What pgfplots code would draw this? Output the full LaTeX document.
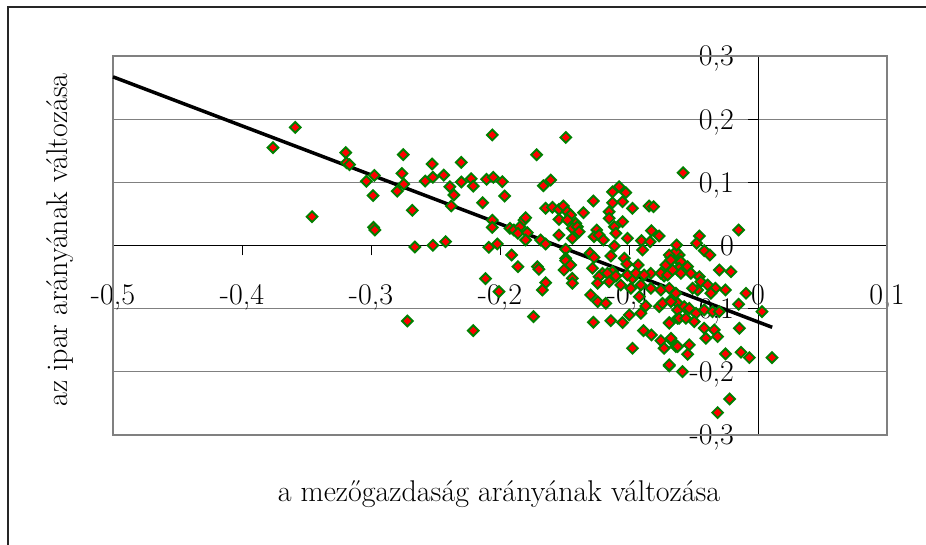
\documentclass[border=0pt]{standalone}
\usepackage{fontspec}
\usepackage{pgfplots}
\pgfplotsset{compat=1.18}
\definecolor{exgreen}{RGB}{0,128,0}
\definecolor{exred}{RGB}{255,0,0}
\definecolor{exgray}{RGB}{128,128,128}
\newcommand{\bigf}{\fontsize{30}{36}\selectfont}
\newcommand{\tickf}{\fontsize{30}{36}\selectfont}
\begin{document}
\begin{tikzpicture}[x=1pt,y=1pt,font=\bigf]
\useasboundingbox (0,0) rectangle (926,545);
\fill[white] (0,0) rectangle (926,545);
\draw[line width=1.3pt,black!85] (8,0) -- (8,538) -- (926,538);
\begin{axis}[
  at={(113pt,110pt)}, anchor=south west,
  scale only axis, width=774pt, height=379pt,
  xmin=-0.5, xmax=0.1, ymin=-0.3, ymax=0.3,
  axis lines=middle,
  axis line style={-, black, line width=1pt},
  xtick={-0.5,-0.4,-0.3,-0.2,-0.1,0,0.1},
  ytick={-0.3,-0.2,-0.1,0,0.1,0.2,0.3},
  hide obscured x ticks=false, hide obscured y ticks=false,
  tick align=outside,
  major tick length=10pt,
  tick style={black, line width=1pt},
  ymajorgrids, grid style={exgray, line width=1pt},
  /pgf/number format/.cd, use comma, fixed, precision=1, assume math mode=true,
  /pgfplots/.cd,
  tick label style={font=\tickf, inner sep=0pt},
  xticklabel style={anchor=base, yshift=-49pt},
  yticklabel style={anchor=base east, xshift=-14pt, yshift=-10pt},
  clip=false,
]
\draw[exgray, line width=2pt] (rel axis cs:0,0) rectangle (rel axis cs:1,1);
\addplot[only marks, mark=square*, mark size=3.8pt,
  mark options={fill=exred, draw=exgreen, line width=1.9pt, rotate=45}]
coordinates {
(-0.3587,0.187) (-0.376,0.155) (-0.3196,0.147) (-0.319,0.131) (-0.3166,0.128)
(-0.275,0.144) (-0.2526,0.129) (-0.2974,0.111) (-0.3036,0.1016) (-0.276,0.114)
(-0.2746,0.097) (-0.2797,0.086) (-0.258,0.102) (-0.252,0.108) (-0.2984,0.079)
(-0.268,0.0557) (-0.3457,0.0456) (-0.298,0.0288) (-0.297,0.0245) (-0.266,-0.0024)
(-0.252,0.0003) (-0.2718,-0.1195)
(-0.206,0.175) (-0.149,0.171) (-0.1716,0.1437) (-0.230,0.1316) (-0.2436,0.1115)
(-0.23,0.1005) (-0.2223,0.1057) (-0.2207,0.094) (-0.2104,0.1047) (-0.2052,0.108)
(-0.1982,0.101) (-0.1964,0.0783) (-0.2389,0.093) (-0.2358,0.0799) (-0.2378,0.0625)
(-0.2135,0.0677) (-0.1664,0.0946) (-0.1607,0.1036) (-0.206,0.040) (-0.206,0.0288)
(-0.1923,0.0272) (-0.1892,0.0245) (-0.1845,0.0297) (-0.1814,0.0403) (-0.1801,0.044)
(-0.1861,0.0193) (-0.1788,0.0203) (-0.1801,0.0087) (-0.1685,0.0087) (-0.1646,0.0024)
(-0.1646,0.0589) (-0.1594,0.0604) (-0.1543,0.0572) (-0.1543,0.0414) (-0.1509,0.0625)
(-0.1478,0.0535) (-0.1543,0.0166) (-0.1491,-0.006) (-0.1491,-0.0203) (-0.1504,-0.0388)
(-0.2422,0.006) (-0.2087,-0.0028) (-0.2021,0.0024) (-0.191,-0.015) (-0.1861,-0.0335)
(-0.171,-0.0335) (-0.1698,-0.0377) (-0.1646,-0.0588) (-0.1672,-0.0704) (-0.2112,-0.0525)
(-0.2008,-0.073) (-0.174,-0.1126) (-0.2207,-0.1348)
(-0.1077,0.093) (-0.1128,0.085) (-0.1025,0.0836) (-0.1276,0.0704) (-0.1128,0.0677)
(-0.105,0.0693) (-0.1353,0.0519) (-0.1154,0.0535) (-0.0973,0.0589) (-0.0844,0.0625)
(-0.081,0.0614) (-0.1452,0.0483) (-0.1478,0.0403) (-0.1413,0.0351) (-0.1439,0.0272)
(-0.14,0.0297) (-0.1387,0.0218) (-0.1154,0.043) (-0.105,0.0377) (-0.1114,0.0297)
(-0.1102,0.0193) (-0.125,0.0245) (-0.1271,0.0139) (-0.1232,0.0166) (-0.1198,0.0087)
(-0.1012,0.0114) (-0.0826,0.0234) (-0.0766,0.015) (-0.0903,0.0076) (-0.0836,0.006)
(-0.0895,-0.0071) (-0.0611,-0.015) (-0.1439,0.0114) (-0.1114,-0.0008) (-0.1302,-0.0123)
(-0.1271,-0.0187) (-0.1141,-0.0166) (-0.1036,-0.0203) (-0.1017,-0.0293) (-0.1491,-0.024)
(-0.1452,-0.0309) (-0.1283,-0.036) (-0.1206,-0.044) (-0.1128,-0.0414) (-0.0929,-0.0309)
(-0.0831,-0.044) (-0.0714,-0.0309) (-0.0675,-0.0187) (-0.0637,-0.0098) (-0.0611,-0.0256)
(-0.0623,-0.0388) (-0.1439,-0.052) (-0.1232,-0.0494) (-0.0973,-0.052) (-0.0728,-0.0483)
(-0.1439,-0.0598) (-0.1167,-0.044) (-0.1102,-0.0483) (-0.1012,-0.0467) (-0.0947,-0.044)
(-0.0883,-0.0467) (-0.0753,-0.044) (-0.0701,-0.0467) (-0.1243,-0.0598) (-0.1154,-0.0573)
(-0.1064,-0.0625) (-0.0986,-0.0677) (-0.0908,-0.0625) (-0.0831,-0.0677) (-0.0753,-0.0704)
(-0.0688,-0.0677) (-0.0637,-0.0756) (-0.1297,-0.0783) (-0.1243,-0.0889) (-0.118,-0.0915)
(-0.092,-0.081) (-0.087,-0.0957) (-0.0766,-0.0968) (-0.074,-0.0915) (-0.0675,-0.0862)
(-0.0623,-0.0915) (-0.0998,-0.11) (-0.0908,-0.1073) (-0.1141,-0.119) (-0.105,-0.122)
(-0.1276,-0.1216) (-0.0688,-0.122) (-0.0623,-0.1153) (-0.0888,-0.1348) (-0.0826,-0.1416)
(-0.0753,-0.1506) (-0.0728,-0.1627) (-0.0675,-0.1495) (-0.0637,-0.16) (-0.0973,-0.1627)
(-0.0688,-0.1907)
(-0.058,0.1152) (-0.015,0.0245) (-0.0455,0.015) (-0.0476,0.0035) (-0.0631,0.0008)
(-0.0417,-0.0082) (-0.0373,-0.015) (-0.03,-0.0388) (-0.021,-0.0414) (-0.0688,-0.015)
(-0.0675,-0.023) (-0.0598,-0.0256) (-0.0611,-0.036) (-0.0546,-0.0335) (-0.052,-0.044)
(-0.0455,-0.0494) (-0.0662,-0.0388) (-0.0598,-0.044)
(-0.0093,-0.0756) (-0.015,-0.093) (0.0031,-0.1047) (-0.0252,-0.0704) (-0.0331,-0.0677)
(-0.0365,-0.0756) (-0.0443,-0.0573) (-0.0468,-0.0704) (-0.0507,-0.0677) (-0.039,-0.0625)
(-0.0675,-0.0889) (-0.0623,-0.102) (-0.0572,-0.0968) (-0.0533,-0.0994) (-0.0481,-0.1073)
(-0.0417,-0.102) (-0.0352,-0.1047) (-0.03,-0.1047) (-0.0688,-0.1231) (-0.0611,-0.1152)
(-0.0559,-0.1152) (-0.0494,-0.1206) (-0.0417,-0.131) (-0.0339,-0.1337) (-0.0313,-0.1443)
(-0.0404,-0.1469) (-0.0145,-0.131) (-0.0675,-0.1469) (-0.0623,-0.16) (-0.0533,-0.1574)
(-0.0546,-0.1722) (-0.0252,-0.1717) (-0.0132,-0.169) (-0.0067,-0.1775) (0.0109,-0.1775)
(-0.0688,-0.1891) (-0.0585,-0.1997) (-0.022,-0.2429) (-0.0313,-0.2646)
};
\addplot[black, line width=3.5pt, no marks] coordinates {(-0.5,0.267) (0.011,-0.1295)};
\end{axis}
\node[anchor=base] at (499,43) {a mezőgazdaság arányának változása};
\node[anchor=base, rotate=90] at (67,305) {az ipar arányának változása};
\end{tikzpicture}
\end{document}
